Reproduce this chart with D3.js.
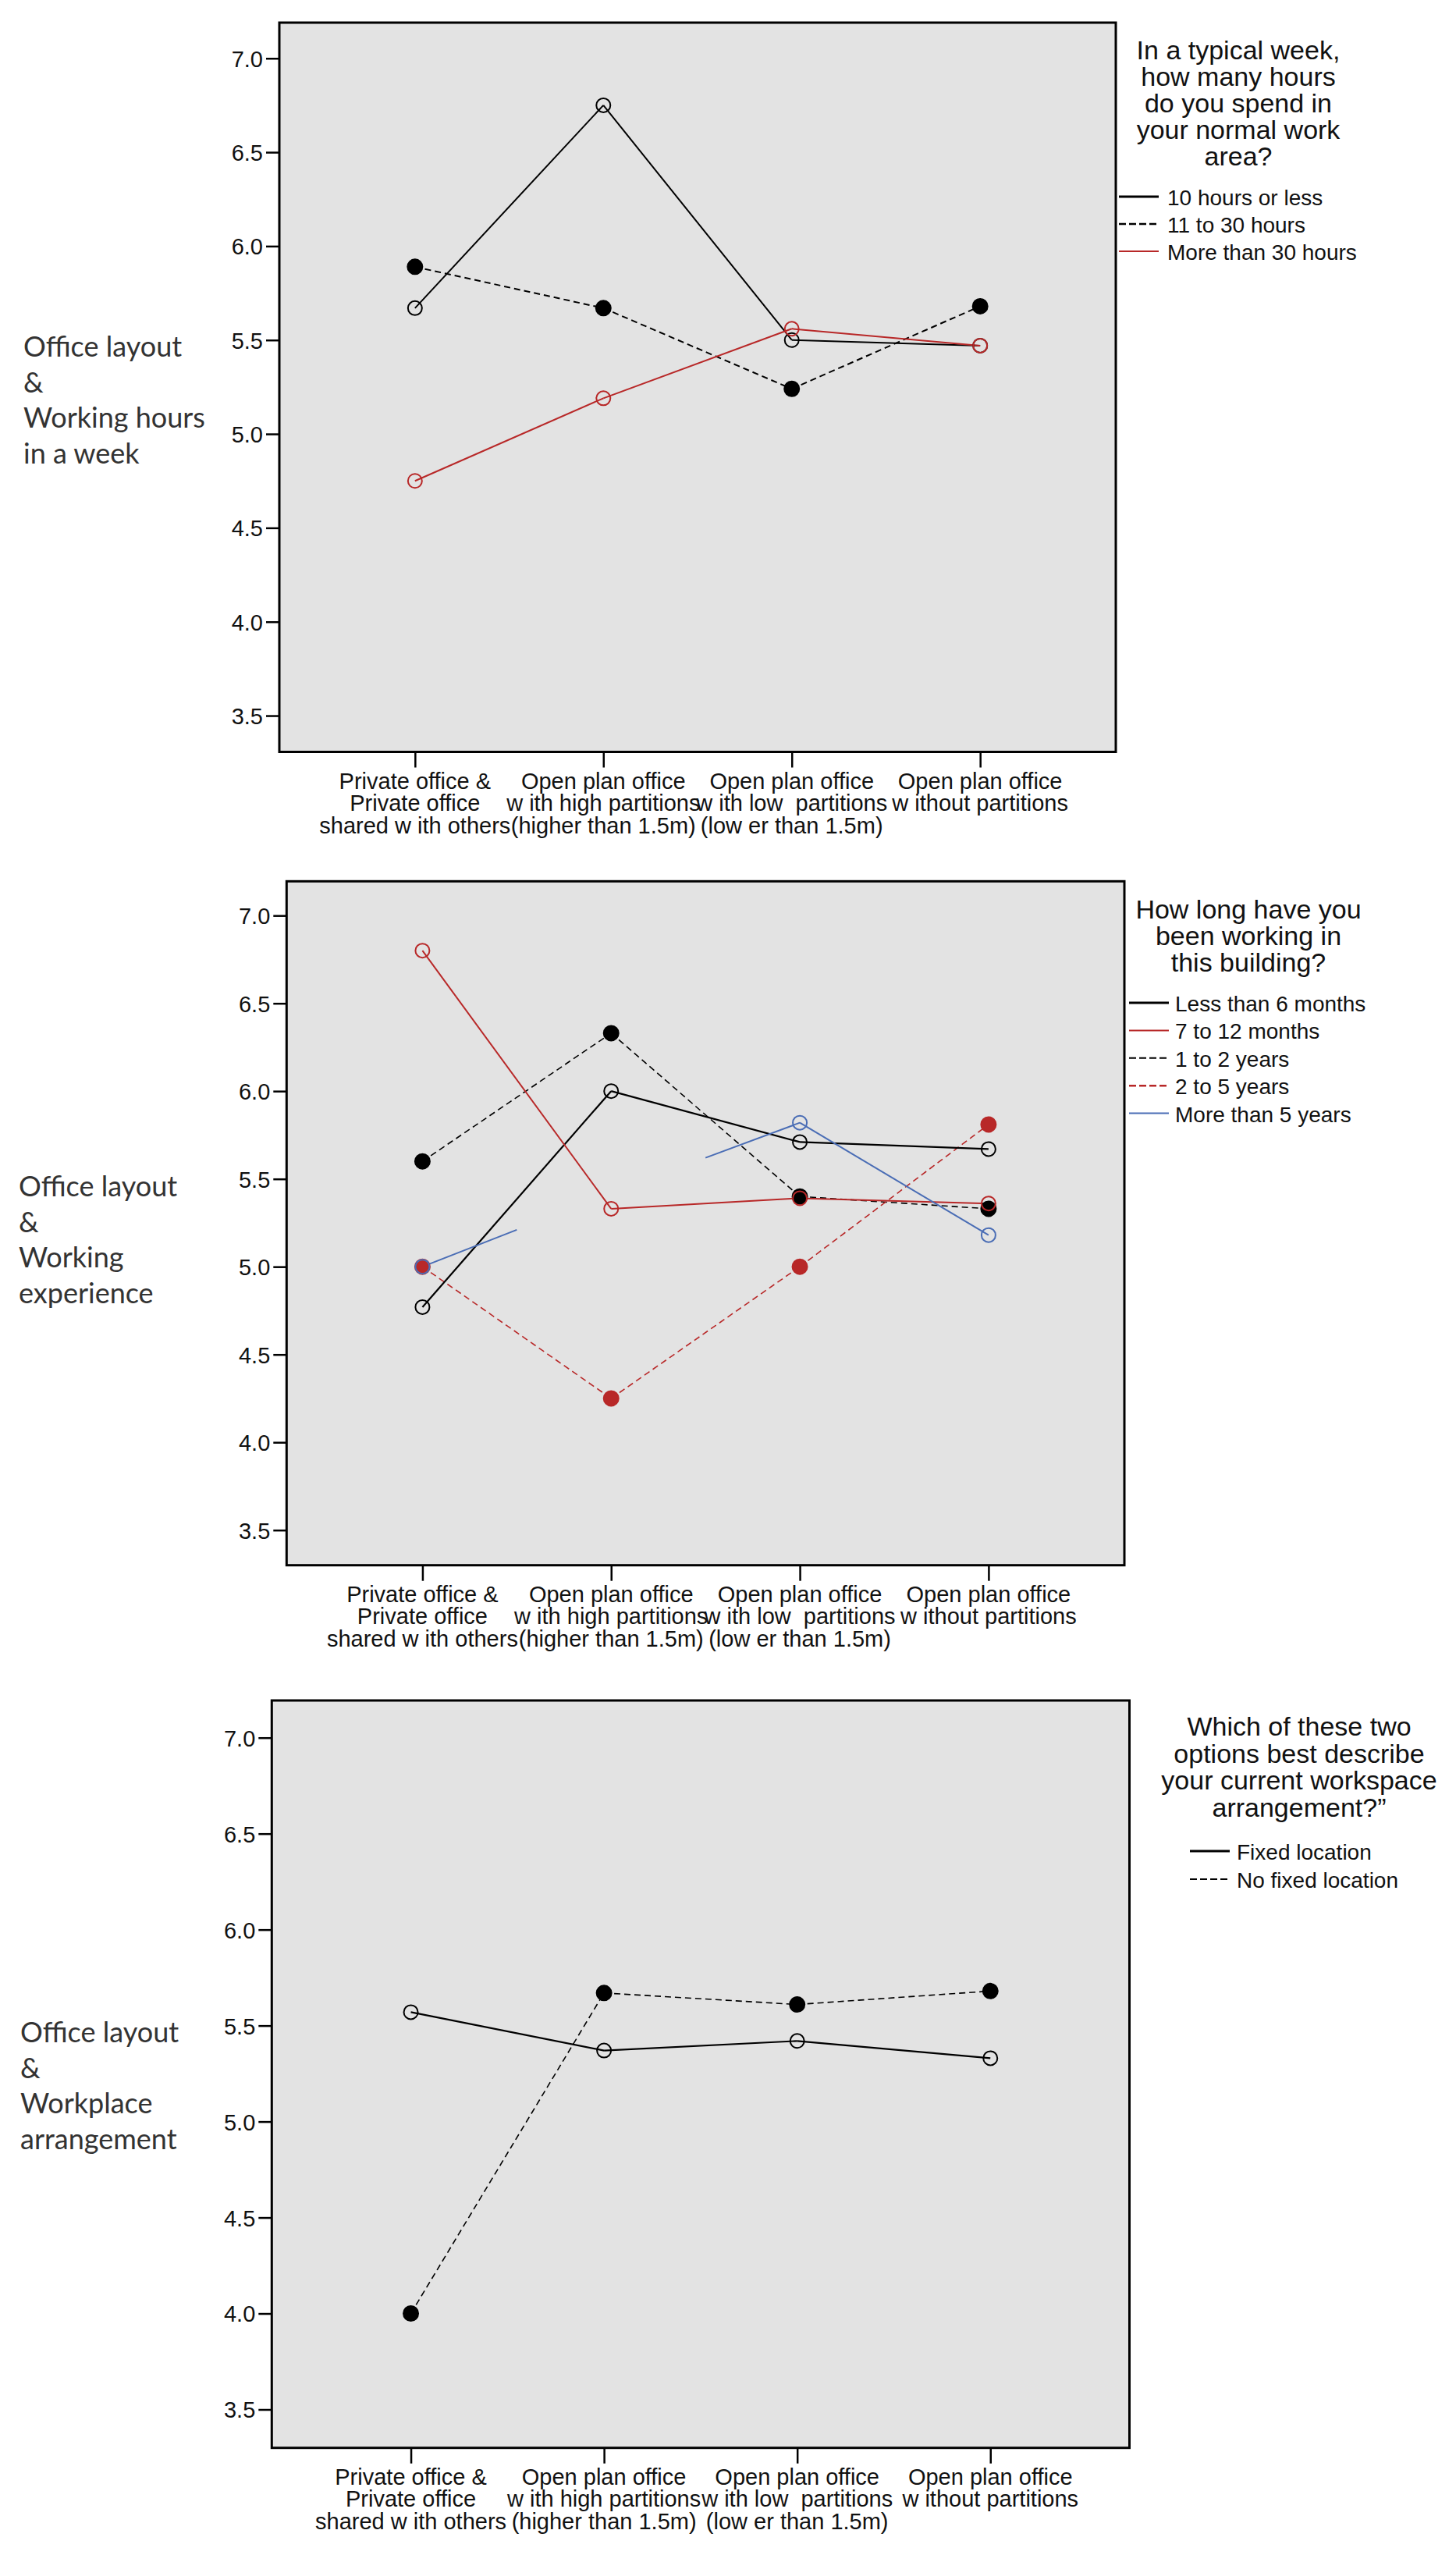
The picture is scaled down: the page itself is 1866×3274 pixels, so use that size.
<!DOCTYPE html>
<html>
<head>
<meta charset="utf-8">
<script src="https://cdn.jsdelivr.net/npm/d3@7"></script>
<style>
  html, body { margin: 0; padding: 0; background: #fff; }
  svg { display: block; }
  text { white-space: pre; }
  .tick-label { font-family: "Liberation Sans", Arial, sans-serif; font-size: 29px; fill: #111; }
  .cat-label { font-family: "Liberation Sans", Arial, sans-serif; font-size: 29px; fill: #111; }
  .leg-title { font-family: "Liberation Sans", Arial, sans-serif; font-size: 34px; fill: #111; }
  .leg-item { font-family: "Liberation Sans", Arial, sans-serif; font-size: 28px; fill: #111; }
  .side-label { font-family: Lato, "Open Sans", sans-serif; font-size: 36px; fill: #333; }
</style>
</head>
<body>
<script>
// ---------------- DATA ----------------
const categories = [
  ["Private office &", "Private office", "shared w ith others"],
  ["Open plan office", "w ith high partitions", "(higher than 1.5m)"],
  ["Open plan office", "w ith low  partitions", "(low er than 1.5m)"],
  ["Open plan office", "w ithout partitions"]
];
const yTicks = [3.5, 4.0, 4.5, 5.0, 5.5, 6.0, 6.5, 7.0];

// Panel 1: Office layout & working hours in a week
const hoursTitle = ["In a typical week,", "how many hours", "do you spend in", "your normal work", "area?"];
const hoursNames = ["10 hours or less", "11 to 30 hours", "More than 30 hours"];
const hours10OrLess = [5.67, 6.75, 5.50, 5.47];
const hours11to30 = [5.89, 5.67, 5.24, 5.68];
const hoursMoreThan30 = [4.75, 5.19, 5.56, 5.47];
const side1 = ["Office layout", "&", "Working hours", "in a week"];

// Panel 2: Office layout & working experience
const experienceTitle = ["How long have you", "been working in", "this building?"];
const experienceNames = ["Less than 6 months", "7 to 12 months", "1 to 2 years", "2 to 5 years", "More than 5 years"];
const lessThan6Months = [4.77, 6.00, 5.71, 5.67];
const months7to12 = [6.80, 5.33, 5.39, 5.36];
const years1to2 = [5.60, 6.33, 5.40, 5.33];
const years2to5 = [5.00, 4.25, 5.00, 5.81];
const moreThan5Years = [5.00, 5.42, 5.82, 5.18];
const moreThan5YearsMarked = [true, false, true, true];
const side2 = ["Office layout", "&", "Working", "experience"];

// Panel 3: Office layout & workplace arrangement
const arrangementTitle = ["Which of these two", "options best describe", "your current workspace", "arrangement?\u201D"];
const arrangementNames = ["Fixed location", "No fixed location"];
const fixedLocation = [5.57, 5.37, 5.42, 5.33];
const noFixedLocation = [4.00, 5.67, 5.61, 5.68];
const side3 = ["Office layout", "&", "Workplace", "arrangement"];

// ---------------- STYLE ----------------
const RED = "#b82828", BLUE = "#4a6db5", BLACK = "#000";
const DASH = "8,5";

const panels = [
  {
    box: {left: 358, right: 1430, top: 29, bottom: 963.5},
    yDomain: [3.307, 7.19],
    side: side1, sideX: 30, sideY: 457, sideStep: 45.5,
    legend: {title: hoursTitle, cx: 1587, ty: 76, tstep: 34, lx: 1434, ly: 252, lstep: 35, tx: 1496},
    series: [
      {name: hoursNames[0], values: hours10OrLess, color: BLACK, dash: null, filled: false, lw: 2, legW: 3},
      {name: hoursNames[1], values: hours11to30, color: BLACK, dash: DASH, filled: true, lw: 2, legW: 2.5},
      {name: hoursNames[2], values: hoursMoreThan30, color: RED, dash: null, filled: false, lw: 2, legW: 2}
    ],
    order: [1, 0, 2]
  },
  {
    box: {left: 367.3, right: 1441, top: 1129.3, bottom: 2005.7},
    yDomain: [3.30, 7.195],
    side: side2, sideX: 24, sideY: 1533, sideStep: 45.5,
    legend: {title: experienceTitle, cx: 1600, ty: 1177, tstep: 34, lx: 1447, ly: 1285, lstep: 35.4, tx: 1506},
    series: [
      {name: experienceNames[0], values: lessThan6Months, color: BLACK, dash: null, filled: false, lw: 2.2, legW: 3},
      {name: experienceNames[1], values: months7to12, color: RED, dash: null, filled: false, lw: 2, legW: 2},
      {name: experienceNames[2], values: years1to2, color: BLACK, dash: DASH, filled: true, lw: 1.6, legW: 2},
      {name: experienceNames[3], values: years2to5, color: RED, dash: DASH, filled: true, lw: 1.6, legW: 2.5},
      {name: experienceNames[4], values: moreThan5Years, marked: moreThan5YearsMarked, color: BLUE, dash: null, filled: false, lw: 2, legW: 2}
    ],
    order: [2, 3, 0, 1, 4]
  },
  {
    box: {left: 348.3, right: 1447.5, top: 2179, bottom: 3136.7},
    yDomain: [3.30, 7.194],
    side: side3, sideX: 26, sideY: 2617, sideStep: 45.5,
    legend: {title: arrangementTitle, cx: 1665, ty: 2224, tstep: 34.5, lx: 1525, ly: 2372, lstep: 36, tx: 1585},
    series: [
      {name: arrangementNames[0], values: fixedLocation, color: BLACK, dash: null, filled: false, lw: 2.2, legW: 3},
      {name: arrangementNames[1], values: noFixedLocation, color: BLACK, dash: DASH, filled: true, lw: 1.6, legW: 2}
    ],
    order: [1, 0]
  }
];

const W = 1866, H = 3274;
const svg = d3.select("body").append("svg").attr("width", W).attr("height", H);
svg.append("rect").attr("width", W).attr("height", H).attr("fill", "#fff");

const catIdx = d3.range(categories.length);

panels.forEach(p => {
  const b = p.box;
  const g = svg.append("g");
  const x = d3.scalePoint().domain(catIdx).range([b.left, b.right]).padding(0.72);
  const y = d3.scaleLinear().domain(p.yDomain).range([b.bottom, b.top]);
  const xf = t => { // fractional category position
    const i0 = Math.floor(t), i1 = Math.min(i0 + 1, catIdx.length - 1);
    return x(i0) + (x(i1) - x(i0)) * (t - i0);
  };

  // plot background
  g.append("rect").attr("x", b.left).attr("y", b.top)
    .attr("width", b.right - b.left).attr("height", b.bottom - b.top)
    .attr("fill", "#e3e3e3");

  // y axis
  const yAxis = d3.axisLeft(y).tickValues(yTicks).tickFormat(d3.format(".1f")).tickSize(17).tickPadding(4);
  const ya = g.append("g").attr("transform", `translate(${b.left},0)`).call(yAxis);
  ya.select(".domain").remove();
  ya.selectAll("line").attr("stroke", "#000").attr("stroke-width", 2.5);
  ya.selectAll("text").attr("class", "tick-label").attr("fill", "#111").attr("dy", "0.36em");

  // x axis
  const xAxis = d3.axisBottom(x).tickSize(20).tickFormat("");
  const xa = g.append("g").attr("transform", `translate(0,${b.bottom})`).call(xAxis);
  xa.select(".domain").remove();
  xa.selectAll("line").attr("stroke", "#000").attr("stroke-width", 2.5);
  categories.forEach((lines, i) => {
    const t = g.append("text").attr("class", "cat-label").attr("text-anchor", "middle")
      .attr("xml:space", "preserve");
    lines.forEach((ln, k) => {
      t.append("tspan").attr("x", x(i)).attr("y", b.bottom + 47 + k * 28.5).text(ln);
    });
  });

  // series lines
  const seg = g.append("g");
  p.order.forEach(si => {
    const s = p.series[si];
    const marked = s.marked || s.values.map(() => true);
    for (let i = 0; i < s.values.length - 1; i++) {
      let t0 = i, t1 = i + 1;
      if (!marked[i] && !marked[i + 1]) continue;
      let v0 = s.values[i], v1 = s.values[i + 1];
      if (!marked[i]) { t0 = i + 0.5; v0 = (v0 + v1) / 2; }
      if (!marked[i + 1]) { t1 = i + 0.5; v1 = (s.values[i] + v1) / 2; }
      seg.append("line")
        .attr("x1", xf(t0)).attr("y1", y(v0))
        .attr("x2", xf(t1)).attr("y2", y(v1))
        .attr("stroke", s.color).attr("stroke-width", s.lw)
        .attr("stroke-dasharray", s.dash);
    }
  });
  // markers
  p.order.forEach(si => {
    const s = p.series[si];
    const marked = s.marked || s.values.map(() => true);
    g.append("g").selectAll("circle")
      .data(s.values.map((v, i) => ({v, i})).filter(d => marked[d.i]))
      .join("circle")
      .attr("cx", d => x(d.i)).attr("cy", d => y(d.v))
      .attr("r", s.filled ? 9.5 : 9)
      .attr("fill", s.filled ? s.color : "none")
      .attr("stroke", s.color).attr("stroke-width", 2);
  });

  // frame
  g.append("rect").attr("x", b.left).attr("y", b.top)
    .attr("width", b.right - b.left).attr("height", b.bottom - b.top)
    .attr("fill", "none").attr("stroke", "#000").attr("stroke-width", 3);

  // legend
  const L = p.legend;
  const lt = g.append("text").attr("class", "leg-title").attr("text-anchor", "middle");
  L.title.forEach((ln, k) => lt.append("tspan").attr("x", L.cx).attr("y", L.ty + k * L.tstep).text(ln));
  p.series.forEach((s, k) => {
    const yy = L.ly + k * L.lstep;
    g.append("line").attr("x1", L.lx).attr("x2", L.lx + 51).attr("y1", yy).attr("y2", yy)
      .attr("stroke", s.color).attr("stroke-width", s.legW)
      .attr("stroke-dasharray", s.dash ? "9,4" : null);
    g.append("text").attr("class", "leg-item").attr("x", L.tx).attr("y", yy + 11).text(s.name);
  });

  // side label
  const st = g.append("text").attr("class", "side-label");
  p.side.forEach((ln, k) => st.append("tspan").attr("x", p.sideX).attr("y", p.sideY + k * p.sideStep).text(ln));
});
</script>
</body>
</html>
